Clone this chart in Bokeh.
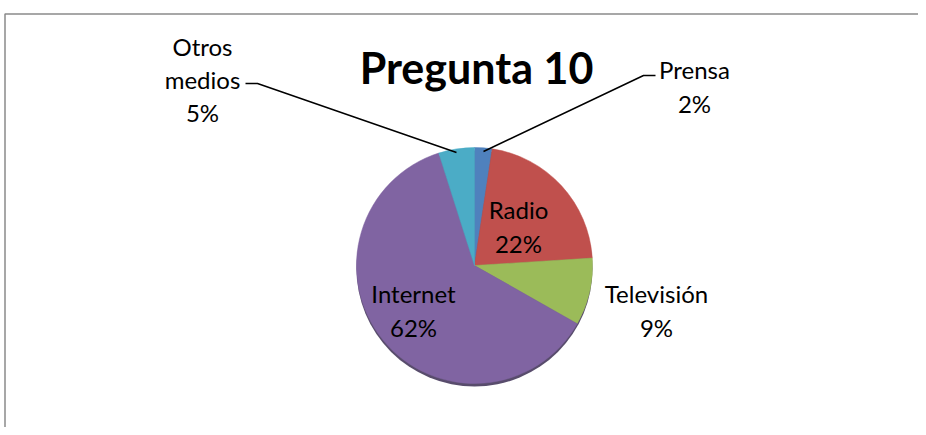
import numpy as np
from bokeh.plotting import figure
from bokeh.models import Range1d, ColumnDataSource
from bokeh.core.properties import value
from bokeh.embed import file_html
from bokeh.resources import INLINE

# ---- data ----
categories = ["Prensa", "Radio", "Televisión", "Internet", "Otros medios"]
values = [2.4, 21.6, 9.2, 61.9, 4.9]
colors = ["#4F81BD", "#C0504D", "#9BBB59", "#8064A2", "#4BACC6"]
title_text = "Pregunta 10"

# ---- layout (page pixel positions) ----
W, H = 918, 427
FONT = "Lato"
center_page = (474, 265)
radius = 118
label_x_page = [694, 518, 656, 413, 202]
label_y_page = [86, 226, 310, 310, 79]


def px(x):
    return x


def py(y):
    return H - y


p = figure(width=W, height=H, x_range=Range1d(0, W), y_range=Range1d(0, H),
           output_backend="svg", toolbar_location=None, min_border=0)
p.axis.visible = False
p.grid.visible = False
p.outline_line_color = None
p.background_fill_color = "white"
p.border_fill_color = "white"

# border of the chart area (left and top visible)
p.line(x=[px(4.5), px(4.5), W], y=[0, py(13.5), py(13.5)], line_color="#8a8a8a", line_width=1.5)

frac = np.array(values) / sum(values)
cum = np.concatenate([[0.0], np.cumsum(frac)])
start = np.pi / 2 - cum[:-1] * 2 * np.pi
end = np.pi / 2 - cum[1:] * 2 * np.pi

cx, cy = px(center_page[0]), py(center_page[1])

# shadow / rim
p.circle(x=[cx], y=[cy - 3], radius=radius, radius_units="screen",
         fill_color="#3b2d52", line_color=None, fill_alpha=0.85)

src = ColumnDataSource(dict(
    start=start, end=end, color=colors,
    x=[cx] * len(values), y=[cy] * len(values),
))
p.wedge(x="x", y="y", radius=radius, radius_units="screen",
        start_angle="start", end_angle="end", direction="clock",
        fill_color="color", line_color="color", line_width=0.5, source=src)

# leader lines
p.line(x=[px(483), px(643), px(655)], y=[py(151), py(75), py(75)], line_color="black", line_width=1.5)
p.line(x=[px(456), px(257), px(245)], y=[py(152), py(83), py(83)], line_color="black", line_width=1.5)

labels = [f"{c.replace(' ', chr(10))}\n{round(v)}%" for c, v in zip(categories, values)]
lsrc = ColumnDataSource(dict(
    x=[px(v) for v in label_x_page], y=[py(v) for v in label_y_page], text=labels))
p.text(x="x", y="y", text="text", source=lsrc, text_align="center", text_baseline="middle",
       text_font=value(FONT), text_font_size="24px", text_color="black", text_line_height=1.15)

p.text(x=[px(476)], y=[py(67)], text=[title_text], text_align="center", text_baseline="middle",
       text_font=value(FONT), text_font_size="43px", text_font_style="bold", text_color="black")

open("out.html", "w").write(file_html(p, INLINE))
